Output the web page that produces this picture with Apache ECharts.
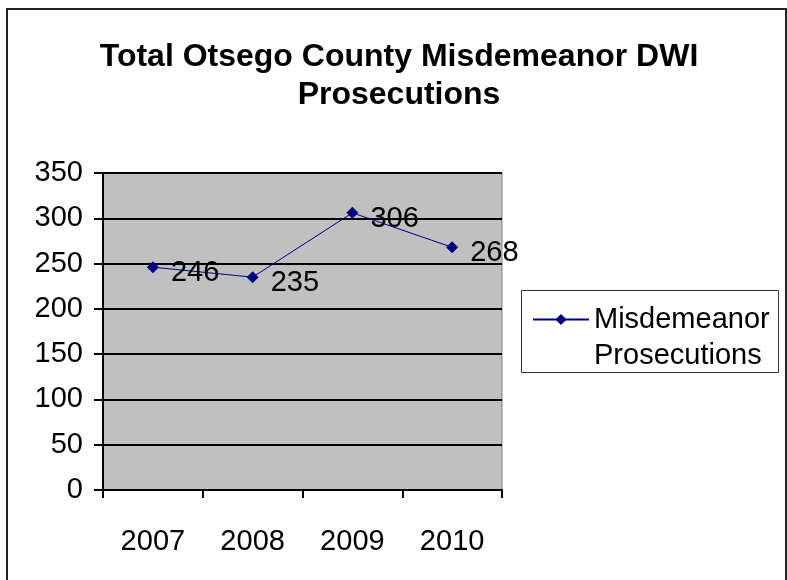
<!DOCTYPE html>
<html>
<head>
<meta charset="utf-8">
<script src="https://cdn.jsdelivr.net/npm/echarts@6/dist/echarts.min.js"></script>
<style>html,body{margin:0;padding:0;background:#fff}#c{width:787px;height:580px}</style>
</head>
<body>
<div id="c"></div>
<script>
const titleText = 'Total Otsego County Misdemeanor DWI\nProsecutions';
const categories = ['2007', '2008', '2009', '2010'];
const seriesName = 'Misdemeanor';
const seriesNameLine2 = 'Prosecutions';
const values = [246, 235, 306, 268];
const yTicks = [0, 50, 100, 150, 200, 250, 300, 350];

const font = '"Liberation Sans", Arial, sans-serif';
const chart = echarts.init(document.getElementById('c'), null, {renderer: 'canvas'});
chart.setOption({
  animation: false,
  backgroundColor: '#fff',
  title: {
    text: titleText,
    left: 394, top: 33, textAlign: 'center',
    textStyle: {fontFamily: font, fontWeight: 'bold', fontSize: 32, lineHeight: 38, color: '#000'}
  },
  graphic: [
    {type: 'rect', shape: {x: 7, y: 9, width: 779, height: 580}, style: {fill: 'none', stroke: '#222', lineWidth: 2}, silent: true},
    {type: 'rect', shape: {x: 521.5, y: 290.5, width: 257, height: 82}, style: {fill: '#fff', stroke: '#333', lineWidth: 1}, silent: true, z: 0},
    {type: 'text', left: 594, top: 341, z: 5, silent: true,
      style: {text: seriesNameLine2, fontFamily: font, fontSize: 29, fill: '#000'}}
  ],
  legend: {
    left: 532, top: 305, padding: 0,
    itemWidth: 56, itemHeight: 14, itemGap: 10,
    textStyle: {fontFamily: font, fontSize: 29, color: '#000'},
    data: [seriesName], z: 5
  },
  grid: {left: 103, top: 173, right: 285, bottom: 90, show: true, backgroundColor: '#C0C0C0', borderColor: '#808080', borderWidth: 1},
  xAxis: {
    type: 'category', data: categories, boundaryGap: true,
    axisLine: {lineStyle: {color: '#000', width: 2}},
    axisTick: {show: true, alignWithLabel: false, length: 8, lineStyle: {color: '#000', width: 2}},
    axisLabel: {fontFamily: font, fontSize: 29, color: '#000', margin: 37}
  },
  yAxis: {
    type: 'value', min: 0, max: 350, interval: 50,
    axisLine: {show: true, lineStyle: {color: '#000', width: 2}},
    axisTick: {show: true, length: 9, lineStyle: {color: '#000', width: 2}},
    axisLabel: {fontFamily: font, fontSize: 29, color: '#000', margin: 20,
      formatter: v => yTicks.includes(v) ? String(v) : ''},
    splitLine: {show: true, lineStyle: {color: '#000', width: 2}}
  },
  series: [{
    name: seriesName, type: 'line', data: values,
    symbol: 'diamond', symbolSize: 12,
    itemStyle: {color: '#000080'},
    lineStyle: {color: '#000080', width: 1},
    label: {show: true, position: 'right', distance: 12, offset: [0, 6], fontFamily: font, fontSize: 29, color: '#000'}
  }]
});
</script>
</body>
</html>
